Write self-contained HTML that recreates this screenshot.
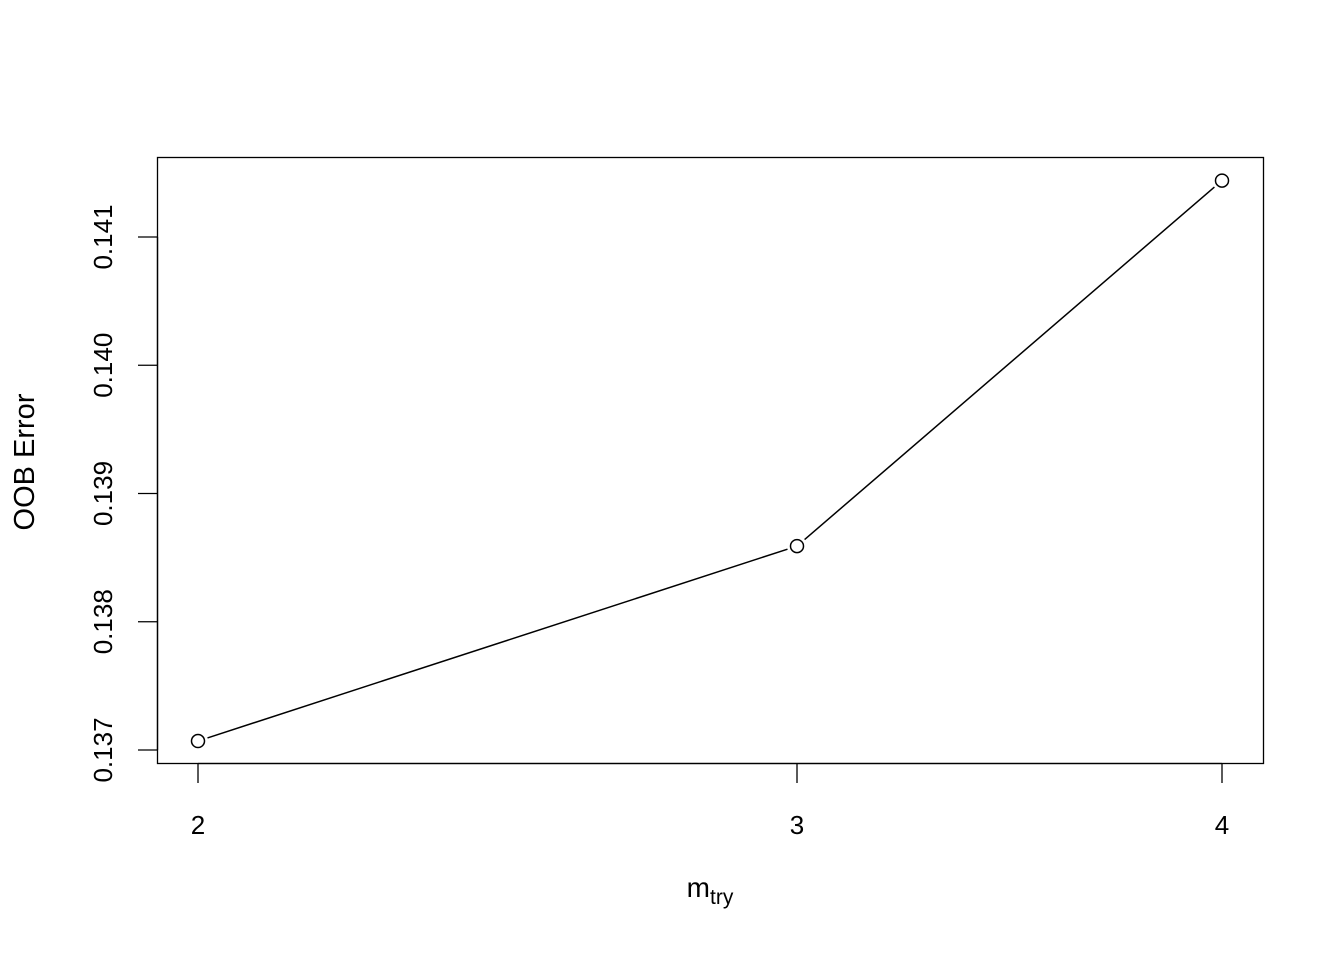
<!DOCTYPE html>
<html><head><meta charset="utf-8"><style>
body{margin:0;background:#fff}
svg text{font-family:"Liberation Sans",Arial,sans-serif;fill:#000}
</style></head><body>
<svg id="chart" width="1344" height="960" xmlns="http://www.w3.org/2000/svg">
<rect x="0" y="0" width="1344" height="960" fill="#fff"/>
<rect x="157.5" y="157.5" width="1106" height="606" fill="none" stroke="#000" stroke-width="1.3"/>
<g id="xaxis"></g>
<g id="yaxis"></g>
<g id="series"></g>
<text x="710" y="897" font-size="28" text-anchor="middle">m<tspan font-size="21" dy="7">try</tspan></text>
<text transform="translate(34,462) rotate(-90)" font-size="29" text-anchor="middle">OOB Error</text>
</svg>
<script>
const mtry=[2,3,4];
const oob=[0.13707,0.13859,0.14144];
const xTicks=[2,3,4];
const yTicks=[0.137,0.138,0.139,0.140,0.141];
const yTickLabels=["0.137","0.138","0.139","0.140","0.141"];
const NS="http://www.w3.org/2000/svg";
function xs(v){return 198+(Math.log(v)-Math.log(2))/(Math.log(4)-Math.log(2))*1024;}
function ys(v){return 750-(v-0.137)/0.004*513;}
function mk(tag,attrs,parent){const e=document.createElementNS(NS,tag);for(const k in attrs)e.setAttribute(k,attrs[k]);parent.appendChild(e);return e;}
const xa=document.getElementById('xaxis'),ya=document.getElementById('yaxis'),se=document.getElementById('series');
mk('line',{x1:xs(xTicks[0]),x2:xs(xTicks[xTicks.length-1]),y1:763.5,y2:763.5,stroke:'#000','stroke-width':1.3},xa);
xTicks.forEach(t=>{
  const l=mk('line',{x1:xs(t),x2:xs(t),y1:763.5,y2:783,stroke:'#000','stroke-width':1.3},xa);
  
  
  const tx=mk('text',{x:xs(t),y:834,'font-size':26,'text-anchor':'middle'},xa);tx.textContent=t;
  
  
});
mk('line',{x1:157.5,x2:157.5,y1:ys(yTicks[0]),y2:ys(yTicks[yTicks.length-1]),stroke:'#000','stroke-width':1.3},ya);
yTicks.forEach((t,i)=>{
  const l=mk('line',{x1:138,x2:157.5,y1:ys(t),y2:ys(t),stroke:'#000','stroke-width':1.3},ya);
  
  
  const tx=mk('text',{transform:`translate(112,${ys(t)}) rotate(-90)`,'font-size':26,'text-anchor':'middle'},ya);tx.textContent=yTickLabels[i];
  
  
});
for(let i=0;i<mtry.length-1;i++){
  const x1=xs(mtry[i]),y1=ys(oob[i]),x2=xs(mtry[i+1]),y2=ys(oob[i+1]);
  const d=Math.hypot(x2-x1,y2-y1),ux=(x2-x1)/d,uy=(y2-y1)/d,g=10;
  const l=mk('line',{x1:x1+ux*g,y1:y1+uy*g,x2:x2-ux*g,y2:y2-uy*g,stroke:'#000','stroke-width':1.5},se);
  
  
}
mtry.forEach((m,i)=>{
  const c=mk('circle',{cx:xs(m),cy:ys(oob[i]),r:6.5,fill:'none',stroke:'#000','stroke-width':1.5},se);
  
  
});
</script>
</body></html>
